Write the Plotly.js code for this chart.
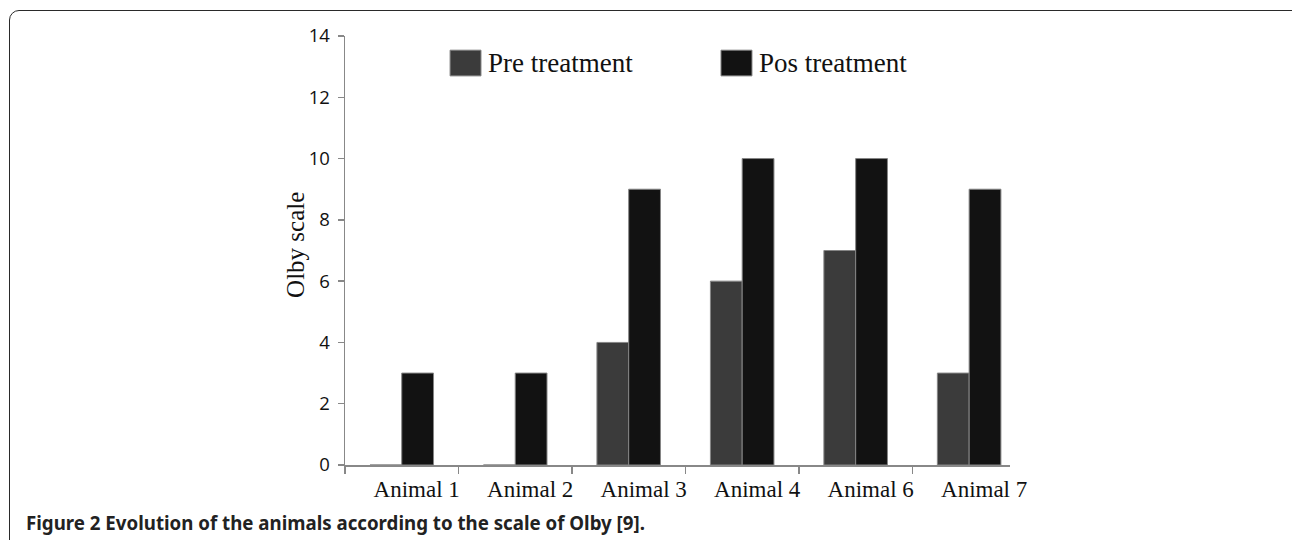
<!DOCTYPE html>
<html>
<head>
<meta charset="utf-8">
<script src="https://cdn.plot.ly/plotly-3.0.1.min.js"></script>
<style>
  html, body { margin:0; padding:0; background:#fff; width:1292px; height:540px; overflow:hidden; }
  #frame { position:absolute; left:9px; top:10px; width:1296px; height:600px; border:1.5px solid #2a2a2a; border-radius:10px; box-sizing:border-box; }
  #chart { position:absolute; left:0; top:0; width:1292px; height:540px; }
  #caption { position:absolute; left:26px; top:510px; font-family:"Noto Sans", sans-serif; font-weight:bold; font-size:18.7px; color:#222; white-space:nowrap; }
</style>
</head>
<body>
<div id="frame"></div>
<div id="chart"></div>
<div id="caption">Figure 2 Evolution of the animals according to the scale of Olby [9].</div>
<script>
const categories = ["Animal 1", "Animal 2", "Animal 3", "Animal 4", "Animal 6", "Animal 7"];
const preTreatment = [0, 0, 4, 6, 7, 3];
const posTreatment = [3, 3, 9, 10, 10, 9];
const seriesNames = ["Pre treatment", "Pos treatment"];
const yTickVals = [0, 2, 4, 6, 8, 10, 12, 14];
const yAxisTitle = "Olby scale";

const preColor = "#3b3b3b";
const posColor = "#121212";

const traces = [
  { type: "bar", name: seriesNames[0], x: categories, y: preTreatment,
    marker: { color: preColor, line: { color: "#858585", width: 1 } } },
  { type: "bar", name: seriesNames[1], x: categories, y: posTreatment,
    marker: { color: posColor, line: { color: "#858585", width: 1 } } }
];

const serif = "Liberation Serif, Times New Roman, serif";

const layout = {
  width: 1292, height: 540,
  margin: { l: 345, r: 282, t: 36, b: 75 },
  paper_bgcolor: "rgba(0,0,0,0)",
  plot_bgcolor: "rgba(0,0,0,0)",
  barmode: "group",
  bargap: 0.44,
  bargroupgap: 0,
  showlegend: false,
  xaxis: {
    type: "category",
    range: [-0.5, 5.36],
    showline: true, linecolor: "#888", linewidth: 1.5,
    ticks: "outside", tickson: "boundaries", ticklen: 7, tickcolor: "#888", tickwidth: 1.5,
    showgrid: false, zeroline: false,
    tickfont: { family: serif, size: 23, color: "#111" },
    ticklabelshift: 15,
    ticklabelstandoff: 3
  },
  yaxis: {
    range: [0, 14],
    tickvals: yTickVals,
    showline: true, linecolor: "#888", linewidth: 1.5,
    ticks: "outside", ticklen: 6, tickcolor: "#888", tickwidth: 1.5,
    showgrid: false, zeroline: false,
    tickfont: { family: "Open Sans, sans-serif", size: 18.5, color: "#111" },
    ticklabelstandoff: 4
  },
  shapes: [
    { type: "rect", xref: "paper", yref: "paper", x0: 0.158, x1: 0.2045, y0: 0.907, y1: 0.967,
      fillcolor: preColor, line: { color: "#858585", width: 1 } },
    { type: "rect", xref: "paper", yref: "paper", x0: 0.5654, x1: 0.612, y0: 0.907, y1: 0.967,
      fillcolor: posColor, line: { color: "#858585", width: 1 } }
  ],
  annotations: [
    { xref: "paper", yref: "paper", x: 0.212, y: 0.937, xanchor: "left", yanchor: "middle",
      text: seriesNames[0], showarrow: false, font: { family: serif, size: 27, color: "#111" } },
    { xref: "paper", yref: "paper", x: 0.6195, y: 0.937, xanchor: "left", yanchor: "middle",
      text: seriesNames[1], showarrow: false, font: { family: serif, size: 27, color: "#111" } },
    { xref: "paper", yref: "paper", x: -0.0737, y: 0.513, xanchor: "center", yanchor: "middle",
      text: yAxisTitle, textangle: -90, showarrow: false, font: { family: serif, size: 25, color: "#111" } }
  ]
};

Plotly.newPlot("chart", traces, layout, { displayModeBar: false, staticPlot: true });
</script>
</body>
</html>
